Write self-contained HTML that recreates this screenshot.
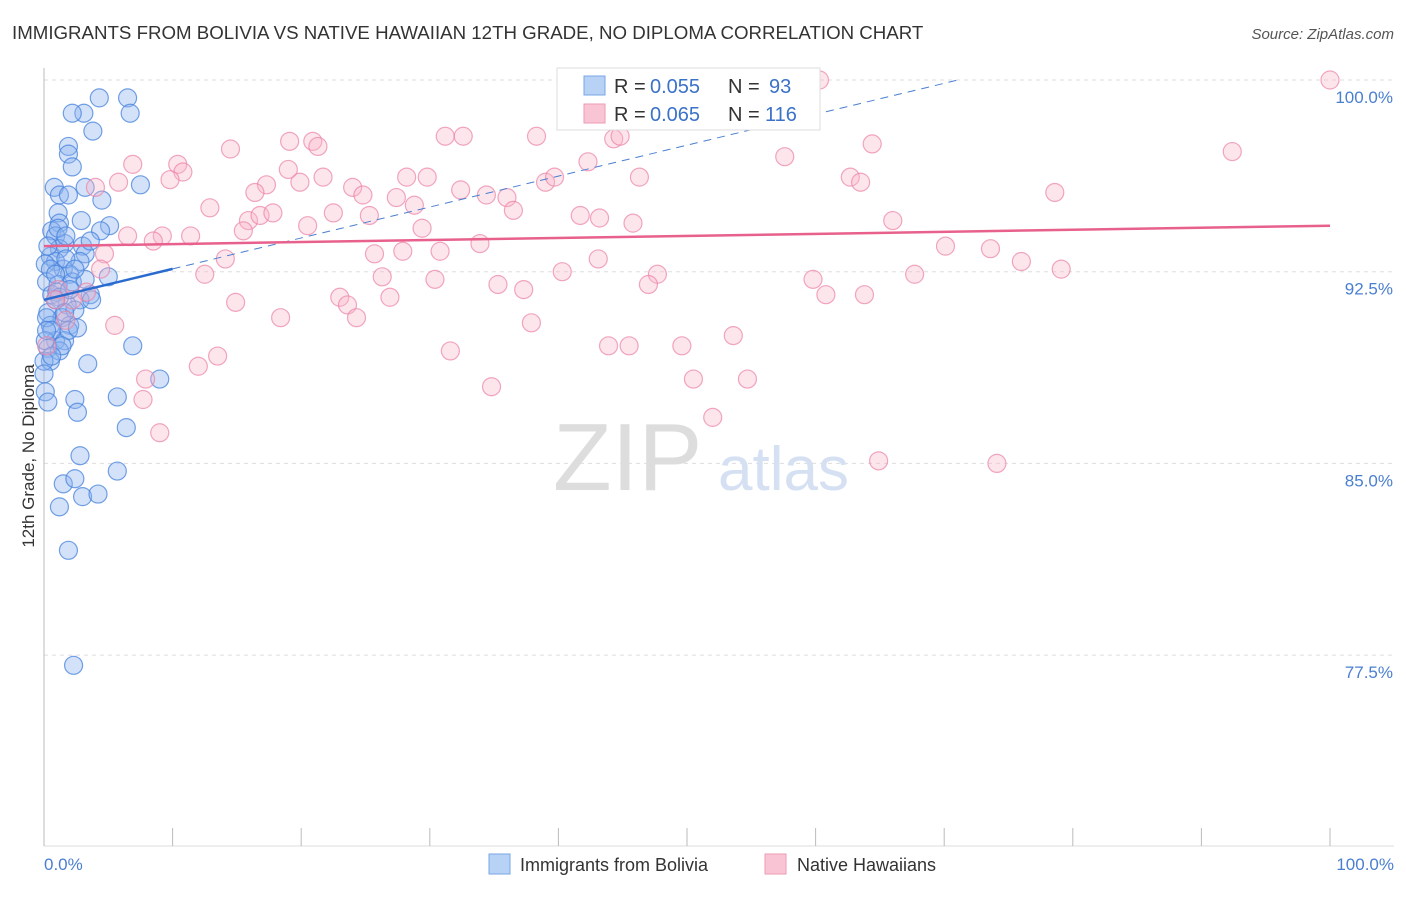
<!DOCTYPE html>
<html><head><meta charset="utf-8"><style>
body{margin:0;background:#fff;font-family:"Liberation Sans",sans-serif}
svg text{font-family:"Liberation Sans",sans-serif}
</style></head><body>
<svg id="chart" width="1406" height="892" xmlns="http://www.w3.org/2000/svg">
<text x="12" y="39" font-size="18.7" fill="#333">IMMIGRANTS FROM BOLIVIA VS NATIVE HAWAIIAN 12TH GRADE, NO DIPLOMA CORRELATION CHART</text>
<text x="1394" y="39" font-size="15" fill="#555" text-anchor="end" font-style="italic">Source: ZipAtlas.com</text>
<g id="grid"></g>
<g><text x="553" y="490" font-size="96" fill="#ddd" font-family="Liberation Serif">ZIP</text><text x="718" y="490" font-size="62" fill="#d5e1f3">atlas</text></g>
<line x1="44" y1="68" x2="44" y2="846" stroke="#bbb"/>
<line x1="44" y1="846" x2="1394" y2="846" stroke="#ddd"/>
<g id="xticks"></g>
<g id="pts"></g>
<g id="trends"></g>
<text transform="translate(34,456) rotate(-90)" font-size="17" fill="#333" text-anchor="middle">12th Grade, No Diploma</text>
<text x="44" y="870" font-size="17" fill="#4a7fd0">0.0%</text>
<text x="1394" y="870" font-size="17" fill="#4a7fd0" text-anchor="end">100.0%</text>
<g>
<rect x="557" y="68" width="263" height="62" fill="#fff" stroke="#ddd"/>
<rect x="584" y="76" width="21" height="19" fill="#b8d2f5" stroke="#7aa6e6"/>
<rect x="584" y="104" width="21" height="19" fill="#f9c5d5" stroke="#ee9ab4"/>
<text x="614" y="93" font-size="20" fill="#333">R =</text>
<text x="650" y="93" font-size="20" fill="#3a72c8">0.055</text>
<text x="728" y="93" font-size="20" fill="#333">N =</text>
<text x="769" y="93" font-size="20" fill="#3a72c8">93</text>
<text x="614" y="121" font-size="20" fill="#333">R =</text>
<text x="650" y="121" font-size="20" fill="#3a72c8">0.065</text>
<text x="728" y="121" font-size="20" fill="#333">N =</text>
<text x="765" y="121" font-size="20" fill="#3a72c8">116</text>
</g>
<g>
<rect x="489" y="854" width="21" height="20" fill="#b8d2f5" stroke="#7aa6e6"/>
<text x="520" y="871" font-size="18" fill="#333">Immigrants from Bolivia</text>
<rect x="765" y="854" width="21" height="20" fill="#f9c5d5" stroke="#ee9ab4"/>
<text x="797" y="871" font-size="18" fill="#333">Native Hawaiians</text>
</g>
</svg>
<script>
const yTicks=[100,92.5,85,77.5];
const yTickLabels=["100.0%","92.5%","85.0%","77.5%"];
const xTickVals=[0,10,20,30,40,50,60,70,80,90,100];
const blueX=[4.3,6.5,3.1,2.2,6.7,3.8,1.9,1.9,2.2,0.8,3.2,7.5,1.2,1.9,4.5,1.1,1.2,2.9,5.1,0.6,0.9,4.4,1.6,3.0,1.2,3.2,0.5,0.9,2.8,5.0,1.5,2.0,0.2,1.1,2.2,3.6,2.8,1.8,0.3,1.4,2.4,0.5,2.0,0.9,1.6,6.9,0.3,1.2,3.4,0.5,0.1,5.7,0.3,2.4,2.6,6.4,9.0,2.8,1.5,2.4,5.7,1.2,3.0,4.2,1.9,2.3,0,0,0.6,0.1,1.0,0.2,1.2,1.7,0.5,3.6,0.9,1.9,0.6,0.1,1.4,3.2,2.0,0.6,1.1,1.7,0.3,2.4,0.9,3.7,1.6,2.6,0.2];
const blueY=[99.3,99.3,98.7,98.7,98.7,98.0,97.4,97.1,96.6,95.8,95.8,95.9,95.5,95.5,95.3,94.8,94.4,94.5,94.3,94.1,93.9,94.1,93.6,93.5,93.4,93.2,93.1,92.9,92.9,92.3,92.6,92.4,92.1,92.0,92.1,91.6,91.4,91.2,90.9,90.7,91.0,90.4,90.4,89.8,89.8,89.6,89.5,89.4,88.9,89.0,87.8,87.6,87.4,87.5,87.0,86.4,88.3,85.3,84.2,84.4,84.7,83.3,83.7,83.8,81.6,77.1,89.0,88.5,91.6,92.8,91.7,90.7,91.5,93.0,92.6,93.7,91.4,90.2,90.2,89.8,89.6,92.2,91.8,89.2,94.2,93.9,93.5,92.6,92.4,91.4,90.9,90.3,90.2];
const pinkX=[41.4,59.6,60.3,100,31.2,32.6,19.1,20.9,21.3,14.5,38.3,44.3,44.8,42.3,57.6,64.4,92.4,6.9,10.4,10.8,9.8,4.0,5.8,17.3,19.9,21.7,19.0,28.2,29.8,24.0,24.8,27.4,28.8,32.4,34.4,36.0,36.5,39.0,39.7,46.3,62.7,63.5,78.6,12.9,16.4,15.9,16.8,17.8,22.5,25.3,20.5,15.5,41.7,43.2,45.8,66.0,6.5,9.2,8.5,11.4,29.4,33.9,4.7,14.1,25.7,27.9,30.8,70.1,73.6,76.0,79.1,43.1,40.3,47.7,47.0,4.4,12.5,26.3,30.4,35.3,37.3,59.8,60.8,63.8,67.7,23.0,26.9,14.9,23.6,24.3,18.4,37.9,5.5,31.6,43.9,45.5,49.6,53.6,13.5,12.0,7.9,7.7,9.0,34.8,50.5,54.7,52.0,64.9,74.1,2.2,1.1,3.3,1.7,0.9,0.2];
const pinkY=[100,100,100,100,97.8,97.8,97.6,97.6,97.4,97.3,97.8,97.7,97.8,96.8,97.0,97.5,97.2,96.7,96.7,96.4,96.1,95.8,96.0,95.9,96.0,96.2,96.5,96.2,96.2,95.8,95.5,95.4,95.1,95.7,95.5,95.4,94.9,96.0,96.2,96.2,96.2,96.0,95.6,95.0,95.6,94.5,94.7,94.8,94.8,94.7,94.3,94.1,94.7,94.6,94.4,94.5,93.9,93.9,93.7,93.9,94.2,93.6,93.2,93.0,93.2,93.3,93.3,93.5,93.4,92.9,92.6,93.0,92.5,92.4,92.0,92.6,92.4,92.3,92.2,92.0,91.8,92.2,91.6,91.6,92.4,91.5,91.5,91.3,91.2,90.7,90.7,90.5,90.4,89.4,89.6,89.6,89.6,90.0,89.2,88.8,88.3,87.5,86.2,88.0,88.3,88.3,86.8,85.1,85.0,91.4,91.8,91.7,90.6,91.4,89.6];
const blueTrend=[91.4,103.5];
const pinkTrend=[93.5,94.3];
const NS="http://www.w3.org/2000/svg";
const X0=44,X1=1330,YTOP=80,YSTEP=191.7/7.5;
function sx(v){return X0+(X1-X0)*v/100;}
function sy(v){return YTOP+(100-v)*YSTEP;}
function mk(tag,attrs,parent){const e=document.createElementNS(NS,tag);for(const k in attrs)e.setAttribute(k,attrs[k]);parent.appendChild(e);return e;}
const grid=document.getElementById('grid');
yTicks.forEach((t,i)=>{
 const l=mk('line',{x1:44,x2:1394,y1:sy(t),y2:sy(t),stroke:'#ddd','stroke-dasharray':'4,4'},grid);
 
 
 const tx=mk('text',{x:1393,y:sy(t)+23,'font-size':17,fill:'#4a7fd0','text-anchor':'end'},grid);
 tx.textContent=yTickLabels[i];
 
 
});
const xt=document.getElementById('xticks');
xTickVals.forEach(v=>{
 const l=mk('line',{x1:sx(v),x2:sx(v),y1:828,y2:846,stroke:'#bbb'},xt);
 
 
});
const pts=document.getElementById('pts');
blueX.forEach((v,i)=>{
 const c=mk('circle',{cx:sx(v),cy:sy(blueY[i]),r:9,fill:'rgba(140,180,240,0.38)',stroke:'rgba(70,130,220,0.75)','stroke-width':1.2},pts);
 
 
});
pinkX.forEach((v,i)=>{
 const c=mk('circle',{cx:sx(v),cy:sy(pinkY[i]),r:9,fill:'rgba(248,180,200,0.35)',stroke:'rgba(235,130,165,0.7)','stroke-width':1.2},pts);
 
 
});
const tr=document.getElementById('trends');
function by(x){return blueTrend[0]+(blueTrend[1]-blueTrend[0])*x/100;}
let l1=mk('line',{x1:sx(0),y1:sy(by(0)),x2:sx(10),y2:sy(by(10)),stroke:'#2a6bd0','stroke-width':2.5},tr);


const xEnd=Math.min(100,(100-blueTrend[0])/(blueTrend[1]-blueTrend[0])*100);
let l2=mk('line',{x1:sx(10),y1:sy(by(10)),x2:sx(xEnd),y2:sy(by(xEnd)),stroke:'#4a7fd0','stroke-width':1,'stroke-dasharray':'8,6'},tr);


let l3=mk('line',{x1:sx(0),y1:sy(pinkTrend[0]),x2:sx(100),y2:sy(pinkTrend[1]),stroke:'#e8608c','stroke-width':2.5},tr);


</script>
</body></html>
